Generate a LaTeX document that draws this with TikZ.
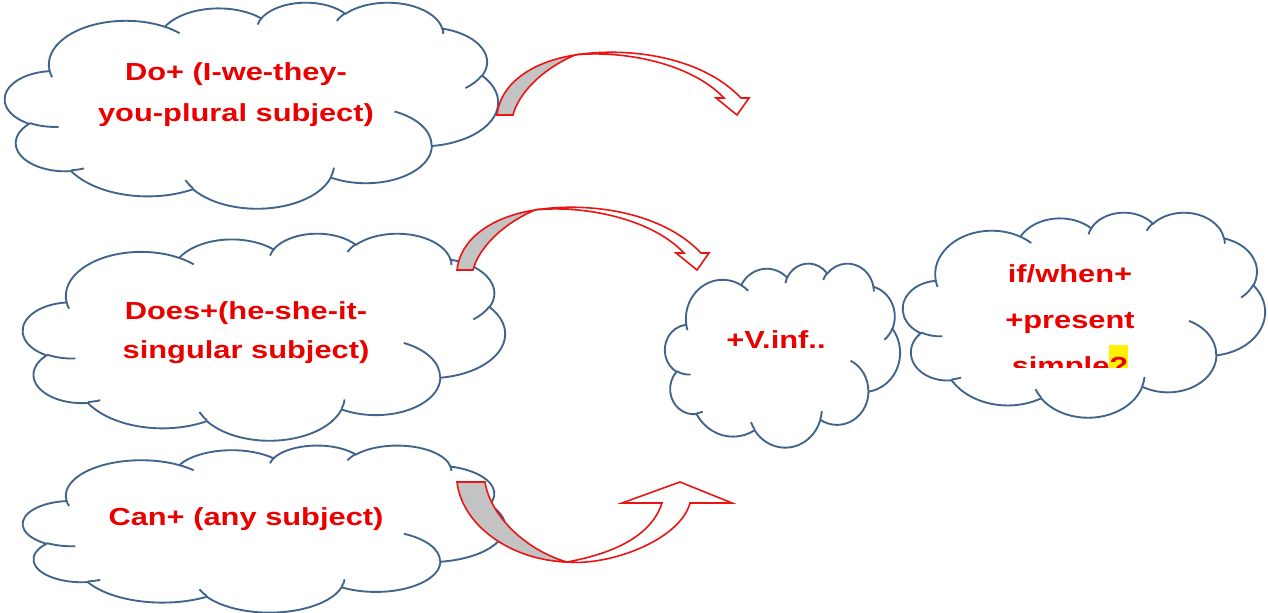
\documentclass[tikz,border=0pt]{standalone}
\usepackage{fontspec}
\newfontfamily\labfont{Liberation Sans}[FakeStretch=1.25]
\definecolor{cloudblue}{RGB}{65,100,140}
\definecolor{labred}{RGB}{235,0,0}
\definecolor{arrred}{RGB}{235,20,20}
\definecolor{arrgray}{RGB}{195,195,195}
\definecolor{hlyellow}{RGB}{255,240,0}
% convert a DrawingML arcTo (visual angles) into a TikZ arc (parametric angles)
\newcommand\mkarc[5]{%
  \pgfmathsetmacro\tmpts{atan2((#2)*sin(#4),(#3)*cos(#4))}%
  \pgfmathsetmacro\tmpteo{atan2((#2)*sin((#4)+(#5)),(#3)*cos((#4)+(#5)))}%
  \pgfmathsetmacro\tmpk{round(((#5)-(\tmpteo-\tmpts))/360)}%
  \pgfmathsetmacro\tmpte{\tmpteo+360*\tmpk}%
  \expandafter\xdef\csname #1\endcsname{arc[start angle=\tmpts, end angle=\tmpte, x radius=#2, y radius=#3]}%
}
\mkarc{cldA}{15.632}{21.273}{-190.487}{123.781}
\mkarc{cldB}{12.345}{16.822}{-144.102}{89.945}
\mkarc{cldC}{10.104}{13.762}{-145.808}{99.723}
\mkarc{cldD}{11.243}{15.266}{-130.986}{117.242}
\mkarc{cldE}{12.345}{16.836}{-78.709}{109.027}
\mkarc{cldF}{15.683}{21.343}{-46.267}{130.269}
\mkarc{cldG}{13.391}{18.211}{0.625}{114.033}
\mkarc{cldH}{15.630}{21.331}{22.452}{115.173}
\mkarc{cldI}{17.870}{24.405}{66.243}{75.711}
\mkarc{cldJ}{10.093}{13.699}{-274.942}{146.736}
\mkarc{cldK}{10.058}{13.762}{-246.829}{152.519}
\mkarc{hntA}{10.058}{13.762}{86.742}{26.430}
\mkarc{hntB}{10.093}{13.699}{73.610}{11.447}
\mkarc{hntC}{15.630}{21.331}{137.624}{14.081}
\mkarc{hntD}{15.630}{21.331}{6.453}{15.998}
\mkarc{hntE}{13.391}{18.211}{-70.292}{70.917}
\mkarc{hntF}{12.345}{16.836}{30.318}{27.752}
\mkarc{hntG}{11.243}{15.266}{-13.744}{14.855}
\mkarc{hntH}{11.243}{15.266}{-149.181}{18.198}
\mkarc{hntI}{10.104}{13.762}{-163.494}{17.694}
\mkarc{hntJ}{15.632}{21.273}{-66.707}{12.319}
\mkarc{hntK}{15.632}{21.273}{157.654}{11.858}
\newcommand\drawcloud[4]{%
  \begin{scope}[shift={(#1,#2)}, xscale=#3/100, yscale=#4/100]
    \filldraw[cloudedge, fill=white] (9.028,33.264) \cldA\cldB\cldC\cldD\cldE\cldF\cldG\cldH\cldI\cldJ\cldK -- cycle;
    \draw[cloudedge] (10.863,60.595) \hntA (16.037,80.785) \hntB (38.144,90.486) \hntC (66.729,80.442) \hntD (79.002,53.134) \hntE (96.755,35.542) \hntF (88.713,12.560) \hntG (67.310,9.148) \hntH (51.252,10.926) \hntI (32.407,12.019) \hntJ (9.553,36.549) \hntK;
  \end{scope}}
\tikzset{
  cloudedge/.style={draw=cloudblue, line width=1.4pt},
  lab/.style={text=labred, font=\labfont\bfseries\fontsize{18.5}{22}\selectfont, anchor=base, inner sep=0pt},
  arrline/.style={draw=arrred, line width=1.2pt, line join=miter},
  backface/.style={arrline, fill=arrgray},
  frontface/.style={arrline, fill=white},
  downarrow/.pic={
    \filldraw[backface] (0,0) .. controls (3,-30) and (33,-53) .. (78,-60) .. controls (43,-45) and (21,-20) .. (16,0) -- cycle;
    \filldraw[frontface] (78,-60) .. controls (128,-68) and (203,-60) .. (244,-17) -- (252,-17) -- (240,0) -- (219,-17) -- (227,-17) .. controls (193,-53) and (123,-65) .. (78,-60) -- cycle;
  },
  uparrow/.pic={
    \filldraw[backface] (0,0) .. controls (5,43) and (53,78) .. (110,80) .. controls (68,68) and (33,33) .. (28,0) -- cycle;
    \filldraw[frontface] (110,80) .. controls (153,84) and (223,58) .. (233,21) -- (275,21) -- (223,0) -- (165,21) -- (205,21) .. controls (193,58) and (148,73) .. (110,80) -- cycle;
  }
}
\begin{document}
\begin{tikzpicture}[x=1pt, y=1pt, yscale=-1, scale=0.75]
\useasboundingbox[fill=white] (0,0) rectangle (1268,613);
% clouds
\drawcloud{5}{2}{493}{206}
\drawcloud{23}{445}{482}{167}
\drawcloud{23}{233}{482}{207}
\drawcloud{665}{263}{235}{184}
\drawcloud{903}{212}{362}{205}
% texts
\node[lab] (doA) at (236,81) {Do+ (I-we-they-};
\node[lab] (doB) at (236,122) {you-plural subject)};
\node[lab] (doesA) at (246,320) {Does+(he-she-it-};
\node[lab] (doesB) at (246,358) {singular subject)};
\node[lab] (can) at (246,525) {Can+ (any subject)};
\node[lab] (vinf) at (776,348) {+V.inf..};
\node[lab] (ifA) at (1070,282) {if/when+};
\node[lab] (ifB) at (1070,328) {+present};
\begin{scope}
  \clip (900,200) rectangle (1268,367);
  \node[lab] (ifC) at (1070,374) {simple{\setlength\fboxsep{0pt}\colorbox{hlyellow}{\rule[-4pt]{0pt}{26pt}?}}};
\end{scope}
% curved block arrows
\pic[transform shape] at (497,115) {downarrow};
\pic[transform shape] at (457,270) {downarrow};
\pic[transform shape] at (457,482) {uparrow};
\end{tikzpicture}
\end{document}
